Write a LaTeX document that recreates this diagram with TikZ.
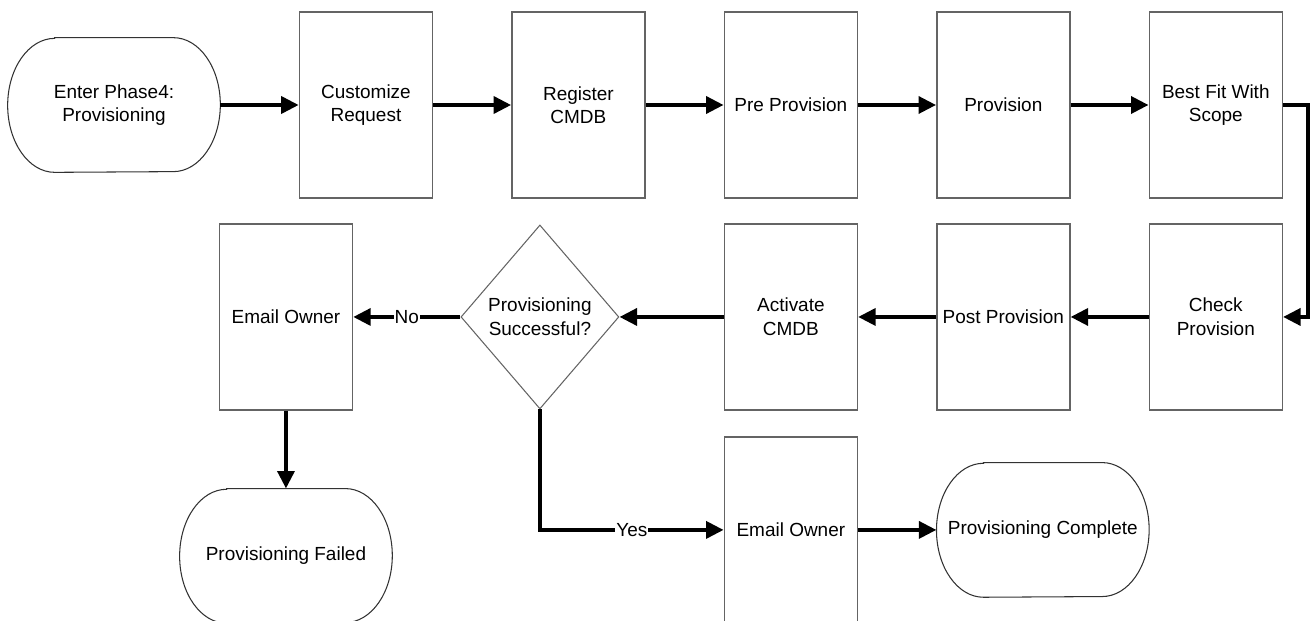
\documentclass[tikz,border=0pt]{standalone}
\usepackage{fontspec}
\setmainfont{Liberation Sans}
\usepackage{xcolor}
\usepackage{tikz}
\usetikzlibrary{shapes.geometric,arrows.meta,positioning}
\definecolor{pvBox}{RGB}{100,100,100}
\definecolor{pvTerm}{RGB}{50,50,50}
\newcommand{\drawterm}[1]{%
  \draw[termedge] ([xshift=0.94cm]#1.north west) -- ([xshift=-0.94cm]#1.north east)
    arc[start angle=90, end angle=-90, x radius=0.94cm, y radius=1.34cm]
    -- ([xshift=0.94cm]#1.south west)
    arc[start angle=270, end angle=90, x radius=0.94cm, y radius=1.34cm] -- cycle;}
\tikzset{
  stepbox/.style={draw=pvBox, line width=0.8pt, minimum width=2.66cm, minimum height=3.72cm, inner sep=2pt, align=center},
  termnode/.style={minimum width=4.24cm, minimum height=2.68cm, inner sep=2pt, align=center},
  termedge/.style={draw=pvTerm, line width=0.6pt},
  decide/.style={diamond, draw=pvBox, line width=0.6pt, minimum width=3.16cm, minimum height=3.68cm, inner sep=0pt, align=center},
  flow/.style={line width=2.4pt, -{Triangle[length=10pt,width=9.5pt]}},
  answer/.style={fill=white, inner sep=0.5pt}
}

\begin{document}
\begin{tikzpicture}[x=0.02cm, y=-0.02cm, node distance=4.25cm,
  font=\fontsize{10.8pt}{13.4pt}\selectfont]
  \useasboundingbox (0,0) rectangle (1315,621);
  \node[termnode] (enter) at (114,105) {Enter Phase4:\\Provisioning};
  \node[stepbox, right of=enter, node distance=5.04cm] (custom) {Customize\\Request};
  \node[stepbox, right of=custom] (regcmdb) {Register\\CMDB};
  \node[stepbox, right of=regcmdb] (preprov) {Pre Provision};
  \node[stepbox, right of=preprov] (prov) {Provision};
  \node[stepbox, right of=prov] (bestfit) {Best Fit With\\Scope};
  \node[stepbox, below of=bestfit, node distance=4.24cm] (check) {Check\\Provision};
  \node[stepbox, left of=check] (postprov) {Post Provision};
  \node[stepbox, left of=postprov] (actcmdb) {Activate\\CMDB};
  \node[decide, left of=actcmdb, node distance=5.02cm] (success) {Provisioning\\Successful?};
  \node[stepbox, left of=success, node distance=5.08cm] (mailfail) {Email Owner};
  \node[termnode, below of=mailfail, node distance=4.78cm] (failed) {Provisioning Failed};
  \node[stepbox, below of=actcmdb, node distance=4.26cm] (mailok) {Email Owner};
  \node[termnode, right of=mailok, node distance=5.04cm] (complete) {Provisioning Complete};
  \drawterm{enter}
  \drawterm{failed}
  \drawterm{complete}
  \draw[flow] (enter) -- (custom);
  \draw[flow] (custom) -- (regcmdb);
  \draw[flow] (regcmdb) -- (preprov);
  \draw[flow] (preprov) -- (prov);
  \draw[flow] (prov) -- (bestfit);
  \draw[flow] (bestfit.east) -| ([xshift=0.5cm]check.east) -- (check.east);
  \draw[flow] (check) -- (postprov);
  \draw[flow] (postprov) -- (actcmdb);
  \draw[flow] (actcmdb) -- (success);
  \draw[flow] (success) -- node[answer] {No} (mailfail);
  \draw[flow] (mailfail) -- (failed.north);
  \draw[flow] (success.south) |- node[answer, pos=0.75] {Yes} (mailok.west);
  \draw[flow] (mailok) -- (complete.west);
\end{tikzpicture}
\end{document}
